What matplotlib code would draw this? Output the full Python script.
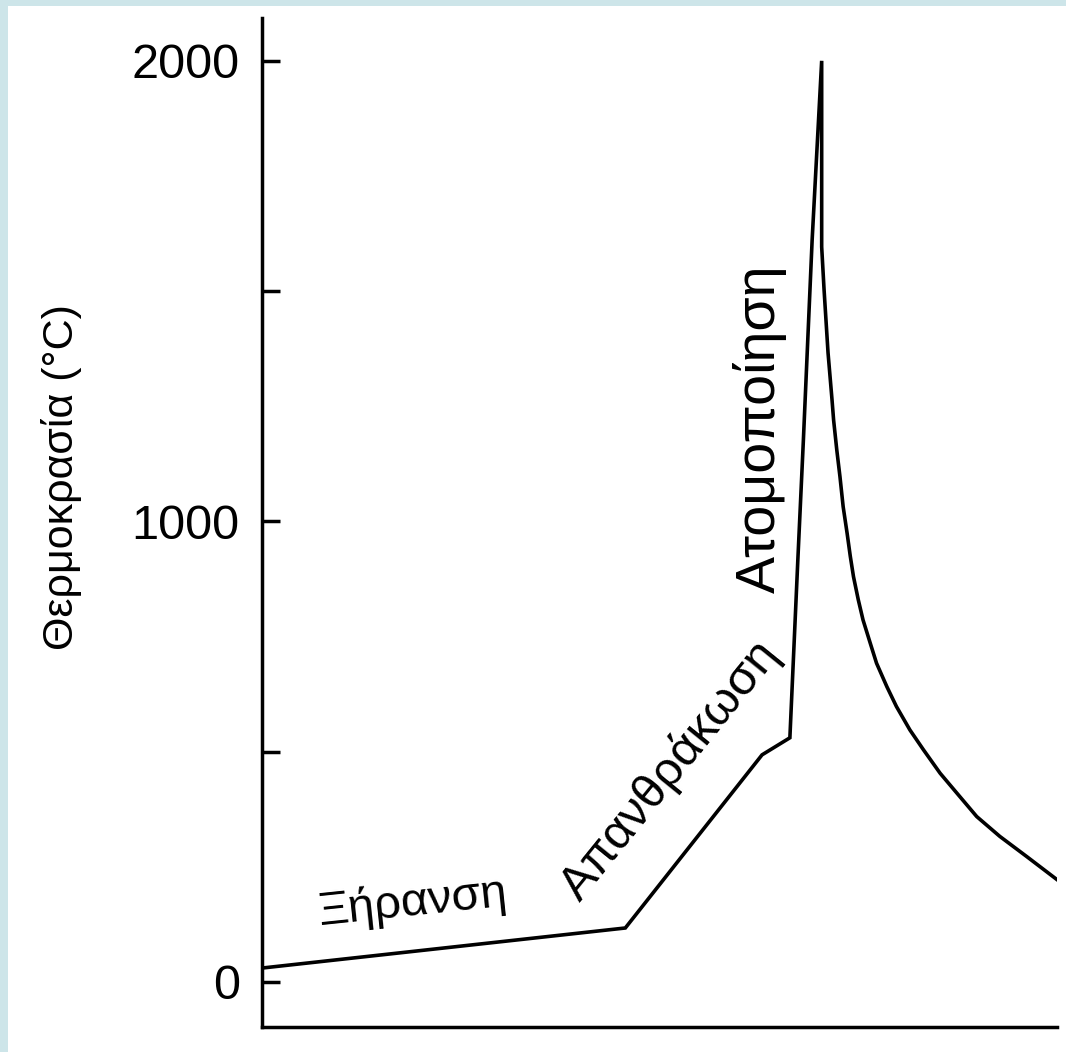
import matplotlib.pyplot as plt
from matplotlib.patches import Rectangle

# heating programme of a graphite furnace (time in arbitrary units 0-100)
time = [0.0, 45.7, 62.9, 66.4, 67.4, 68.1, 69.2, 70.4,
        70.4, 70.4, 70.7, 71.2, 71.7, 71.9, 72.3, 72.7, 73.1, 73.6, 74.0,
        74.4, 75.0, 75.6, 76.5, 77.3, 78.6, 79.8, 81.5, 83.2, 85.3, 87.4,
        89.9, 92.8, 96.2, 100.0]
temp = [30, 117, 493, 530, 916, 1177, 1611, 2000,
        1807, 1596, 1503, 1366, 1264, 1220, 1155, 1097, 1032, 974, 924,
        880, 830, 786, 736, 692, 641, 598, 547, 504, 453, 410,
        359, 316, 272, 222]

ytick_pos = [0, 500, 1000, 1500, 2000]
ytick_lab = ["0", "", "1000", "", "2000"]

stages = ["Ξήρανση", "Απανθράκωση", "Ατομοποίηση"]
stage_x = [19.0, 51.3, 62.6]
stage_y = [172, 460, 1201]
stage_rot = [6, 51, 90]
stage_size = [34, 35, 40]

plt.rcParams['font.family'] = ['Liberation Sans', 'DejaVu Sans']

fig = plt.figure(figsize=(10.66, 10.52), dpi=100, facecolor="#cde5e9")
# white page inside the light blue frame
fig.patches.append(Rectangle((8 / 1066, 0), 1, 1 - 6 / 1052, transform=fig.transFigure,
                             facecolor="white", edgecolor="none", zorder=-1))

ax = fig.add_axes([262 / 1066, 25 / 1052, 795 / 1066, 1009 / 1052])
ax.set_facecolor("none")
ax.plot(time, temp, color="black", lw=2.6, solid_joinstyle="miter")

ax.set_xlim(0, 100)
ax.set_ylim(-98, 2093)
ax.set_xticks([])
ax.set_yticks(ytick_pos)
ax.set_yticklabels(ytick_lab, fontsize=35)
ax.tick_params(axis="y", direction="in", length=13, width=2.5, pad=16)

for side in ["top", "right"]:
    ax.spines[side].set_visible(False)
for side in ["left", "bottom"]:
    ax.spines[side].set_linewidth(2.5)

ax.text(-0.2516, 0.545, "Θερμοκρασία (°C)", transform=ax.transAxes, rotation=90,
        ha="center", va="center", fontsize=31)

for s, x, y, r, fs in zip(stages, stage_x, stage_y, stage_rot, stage_size):
    ax.text(x, y, s, rotation=r, rotation_mode="anchor", ha="center", va="center",
            fontsize=fs)

fig.savefig("out.png", dpi=100, facecolor=fig.get_facecolor())
